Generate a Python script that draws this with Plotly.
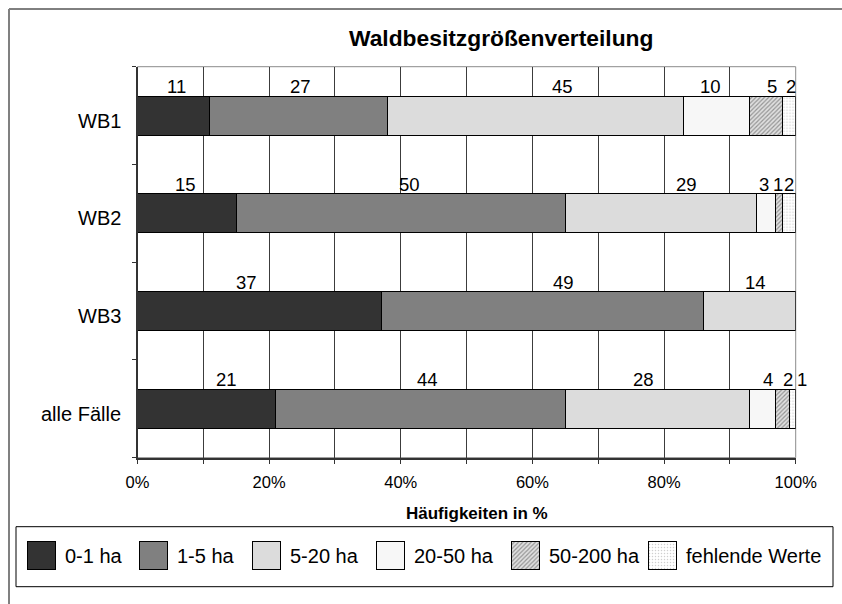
import plotly.graph_objects as go

# ---- data -------------------------------------------------------------
categories = ["WB1", "WB2", "WB3", "alle Fälle"]
series_names = ["0-1 ha", "1-5 ha", "5-20 ha", "20-50 ha", "50-200 ha", "fehlende Werte"]
ha_0_1 = [11, 15, 37, 21]
ha_1_5 = [27, 50, 49, 44]
ha_5_20 = [45, 29, 14, 28]
ha_20_50 = [10, 3, None, 4]
ha_50_200 = [5, 1, None, 2]
fehlend = [2, 2, None, 1]
series_values = [ha_0_1, ha_1_5, ha_5_20, ha_20_50, ha_50_200, fehlend]
tick_values = list(range(0, 101, 10))
tick_labels = [f"{v}%" if v % 20 == 0 else "" for v in tick_values]

# ---- styling ----------------------------------------------------------
FONT = "Liberation Sans, Arial, sans-serif"
W, H = 842, 604
fills = ["#333333", "#808080", "#dcdcdc", "#f7f7f7", "#d0d0d0", "#ffffff"]
patterns = [None, None, None, None,
            dict(shape="/", fgcolor="#4a4a4a", bgcolor="#e0e0e0", size=3, solidity=0.4),
            dict(shape=".", fgcolor="#a0a0a0", bgcolor="#ffffff", size=3, solidity=0.2)]
# horizontal nudge (px) of each value label, per series / category
label_shift = [
    [3, -1.5, -12.5, 19.5],
    [1.5, 9, 21.5, 6.5],
    [27, 26, 5.5, -13.5],
    [-6, -2.5, 0, 5],
    [6, -1, 0, 5],
    [1.5, 0, 0, 10],
]
legend_x0 = [27, 139, 252, 376, 511, 648]   # left edge of each legend key (px)


def px(x):
    return x / W


def py(y):
    return 1 - y / H


fig = go.Figure()

for name, vals, col, pat in zip(series_names, series_values, fills, patterns):
    marker = dict(color=col, line=dict(color="#000000", width=1))
    if pat:
        marker["pattern"] = pat
    fig.add_trace(go.Bar(y=categories, x=vals, orientation="h", name=name,
                         marker=marker, showlegend=False, hoverinfo="skip"))

annotations = []
# category names left of the axis, sitting slightly below the bar centre
for cat in categories:
    annotations.append(dict(
        x=px(122.5), y=cat, xref="paper", yref="y", text=cat, showarrow=False,
        xanchor="right", yanchor="middle", yshift=-5,
        font=dict(family=FONT, size=20, color="#000000")))

# value labels above every segment
for ci, cat in enumerate(categories):
    cum = 0
    for si, vals in enumerate(series_values):
        v = vals[ci]
        if v is None:
            continue
        annotations.append(dict(
            x=cum + v / 2, y=cat, xref="x", yref="y",
            text=str(v), showarrow=False, xanchor="center", yanchor="middle",
            xshift=label_shift[si][ci], yshift=29,
            font=dict(family=FONT, size=18.5, color="#000000")))
        cum += v

# chart title and axis title
annotations.append(dict(x=px(500.5), y=py(38), xref="paper", yref="paper",
                        text="<b>Waldbesitzgrößenverteilung</b>", showarrow=False,
                        xanchor="center", yanchor="middle",
                        font=dict(family=FONT, size=22.8, color="#000000")))
annotations.append(dict(x=px(476.5), y=py(513), xref="paper", yref="paper",
                        text="<b>Häufigkeiten in %</b>", showarrow=False,
                        xanchor="center", yanchor="middle",
                        font=dict(family=FONT, size=17, color="#000000")))

# legend keys drawn as small bars on a hidden pixel-scaled axis pair
for i, (name, col, pat) in enumerate(zip(series_names, fills, patterns)):
    marker = dict(color=col, line=dict(color="#000000", width=1))
    if pat:
        marker["pattern"] = pat
    x0 = legend_x0[i]
    fig.add_trace(go.Bar(x=[x0 + 14], y=[28], base=[541], width=[28],
                         xaxis="x2", yaxis="y2", marker=marker,
                         showlegend=False, hoverinfo="skip"))
    annotations.append(dict(x=x0 + 36, y=556, xref="x2", yref="y2", text=name,
                            showarrow=False, xanchor="left", yanchor="middle",
                            font=dict(family=FONT, size=20, color="#000000")))

shapes = [
    # plot area border
    dict(type="rect", xref="x domain", yref="y domain", x0=0, x1=1, y0=0, y1=1,
         line=dict(color="#8c8c8c", width=1), layer="below"),
    # legend box
    dict(type="rect", xref="paper", yref="paper", x0=px(16), x1=px(833),
         y0=py(586.7), y1=py(526.7), line=dict(color="#000000", width=1)),
    # chart frame (top and left edges)
    dict(type="line", xref="paper", yref="paper", x0=px(9), x1=1,
         y0=py(9), y1=py(9), line=dict(color="#000000", width=1)),
    dict(type="line", xref="paper", yref="paper", x0=px(9), x1=px(9),
         y0=py(9), y1=0, line=dict(color="#808080", width=2)),
]

fig.update_layout(
    width=W, height=H,
    margin=dict(l=0, r=0, t=0, b=0, autoexpand=False),
    paper_bgcolor="#ffffff", plot_bgcolor="rgba(0,0,0,0)",
    barmode="stack", bargap=0.6,
    font=dict(family=FONT, color="#000000"),
    xaxis=dict(domain=[px(137.5), px(795.7)], range=[0, 100],
               tickmode="array", tickvals=tick_values, ticktext=tick_labels,
               showgrid=True, gridcolor="#3c3c3c", gridwidth=1,
               ticks="outside", ticklen=5, tickcolor="#333333",
               showline=True, linecolor="#333333", linewidth=1.5,
               zeroline=False, tickfont=dict(size=16.5), ticklabelstandoff=4,
               automargin=False),
    yaxis=dict(domain=[py(457.7), py(66.7)], type="category",
               categoryorder="array", categoryarray=categories[::-1],
               tickson="boundaries", ticks="outside", ticklen=4,
               tickcolor="#333333", showline=True, linecolor="#333333",
               linewidth=1.5, showgrid=False, zeroline=False,
               showticklabels=False, automargin=False),
    xaxis2=dict(domain=[0, 1], range=[0, W], visible=False, anchor="y2",
                automargin=False),
    yaxis2=dict(domain=[0, 1], range=[H, 0], visible=False, anchor="x2",
                automargin=False),
    annotations=annotations,
    shapes=shapes,
)

fig.write_html("out.html")
